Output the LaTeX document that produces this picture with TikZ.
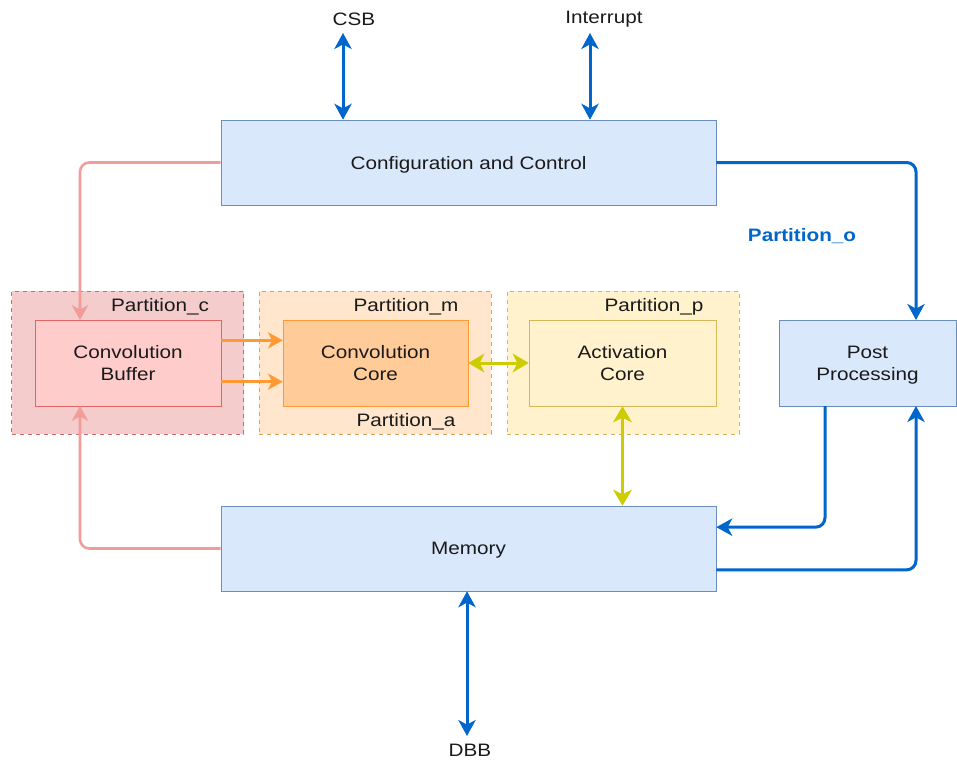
\documentclass[tikz,border=0pt]{standalone}
\usepackage{fontspec}
\setmainfont{Liberation Sans}[FakeStretch=1.15]
\usetikzlibrary{arrows.meta}
\definecolor{ctlfill}{HTML}{DAE8FC}
\definecolor{ctlline}{HTML}{6C8EBF}
\definecolor{bluearr}{HTML}{0066CC}
\definecolor{pinkpart}{HTML}{F4CCCC}
\definecolor{pinkdash}{HTML}{C86E6E}
\definecolor{buffill}{HTML}{FFCCCC}
\definecolor{bufline}{HTML}{E06666}
\definecolor{pinkarr}{HTML}{F19C99}
\definecolor{orgpart}{HTML}{FFE6CC}
\definecolor{orgdash}{HTML}{D6A656}
\definecolor{corefill}{HTML}{FFCC99}
\definecolor{coreline}{HTML}{FF9933}
\definecolor{yelpart}{HTML}{FFF2CC}
\definecolor{yelline}{HTML}{D6B656}
\definecolor{yelarr}{HTML}{CCCC00}
\definecolor{txt}{HTML}{1A1A1A}
\newcommand{\pxl}{0.75pt}
\tikzset{
  blk/.style={draw=ctlline,fill=ctlfill,inner sep=0pt,align=center,text=txt,
    text depth=0pt,font=\fontsize{13.5}{16.5}\selectfont},
  partbox/.style={dashed,inner sep=0pt,minimum width=232*\pxl,minimum height=143*\pxl},
  lbl/.style={text=txt,font=\fontsize{13.5}{16.5}\selectfont},
  bluelink/.style={bluearr,line width=2.25pt,rounded corners=7pt,
    >={Stealth[length=12pt,width=13pt,inset=3.5pt]}},
  pinklink/.style={pinkarr,line width=1.9pt,rounded corners=7pt,
    >={Stealth[length=11pt,width=12pt,inset=3pt]}},
  orglink/.style={coreline,line width=2.4pt,
    >={Stealth[length=11pt,width=12pt,inset=3pt]}},
  yellink/.style={yelarr,line width=2.25pt,
    >={Stealth[length=12pt,width=14pt,inset=3.5pt]}}
}
\begin{document}
\begin{tikzpicture}[x=0.75pt,y=-0.75pt]
	\useasboundingbox (0,0) rectangle (957,760);
	% partitions
	\node[partbox,draw=pinkdash,fill=pinkpart] (partc) at (127.5,362.5) {};
	\node[partbox,draw=orgdash,fill=orgpart] (partm) at (375,362.5) {};
	\node[partbox,draw=yelline,fill=yelpart] (partp) at (623,362.5) {};
	\node[lbl] (labc) at (160,307) {Partition\_c};
	\node[lbl] (labm) at (406,307) {Partition\_m};
	\node[lbl] (laba) at (406,422) {Partition\_a};
	\node[lbl] (labp) at (654,307) {Partition\_p};
	% blocks
	\node[blk,minimum width=495*\pxl,minimum height=85*\pxl] (cfg) at (468.5,162.5) {Configuration and Control};
	\node[blk,minimum width=495*\pxl,minimum height=85*\pxl] (mem) at (468.5,548.5) {Memory};
	\node[blk,draw=bufline,fill=buffill,minimum width=186*\pxl,minimum height=86*\pxl] (buf) at (128,363) {Convolution\\Buffer};
	\node[blk,draw=coreline,fill=corefill,minimum width=185*\pxl,minimum height=86*\pxl] (core) at (375.5,363) {Convolution\\Core};
	\node[blk,draw=yelline,fill=yelpart,minimum width=187*\pxl,minimum height=86*\pxl] (act) at (622.5,363) {Activation\\Core};
	\node[blk,minimum width=177*\pxl,minimum height=86*\pxl] (post) at (867.5,363) {Post\\Processing};
	% outside ports
	\node[lbl] (csb) at (354,19) {CSB};
	\node[lbl] (irq) at (604,19) {Interrupt};
	\node[lbl] (dbb) at (470,750) {DBB};
	\node[font=\fontsize{13.5}{16.5}\selectfont\bfseries,text=bluearr] (parto) at (802,236) {Partition\_o};
	\coordinate (csbend) at (343,33);
	\coordinate (irqend) at (590,33);
	\coordinate (dbbend) at (467,736);
	\coordinate (bufin) at (80,320);
	\coordinate (bufback) at (80,406);
	\coordinate (postin) at (916,320);
	\coordinate (postout) at (825,406);
	\coordinate (postback) at (916,406);
	% links
	\draw[bluelink,<->] (csbend) -- (csbend |- cfg.north);
	\draw[bluelink,<->] (irqend) -- (irqend |- cfg.north);
	\draw[bluelink,<->] (dbbend) -- (dbbend |- mem.south);
	\draw[bluelink,->] (cfg.east) -| (postin);
	\draw[bluelink,->] (postout) |- ([yshift=16pt]mem.east);
	\draw[bluelink,->] ([yshift=-16pt]mem.east) -| (postback);
	\draw[pinklink,->] (cfg.west) -| (bufin);
	\draw[pinklink,->] (mem.west) -| (bufback);
	\draw[orglink,->] ([yshift=17pt]buf.east) -- ([yshift=17pt]core.west);
	\draw[orglink,->] ([yshift=-14pt]buf.east) -- ([yshift=-14pt]core.west);
	\draw[yellink,<->] (core.east) -- (act.west);
	\draw[yellink,<->] (act.south) -- (act.south |- mem.north);
\end{tikzpicture}
\end{document}
